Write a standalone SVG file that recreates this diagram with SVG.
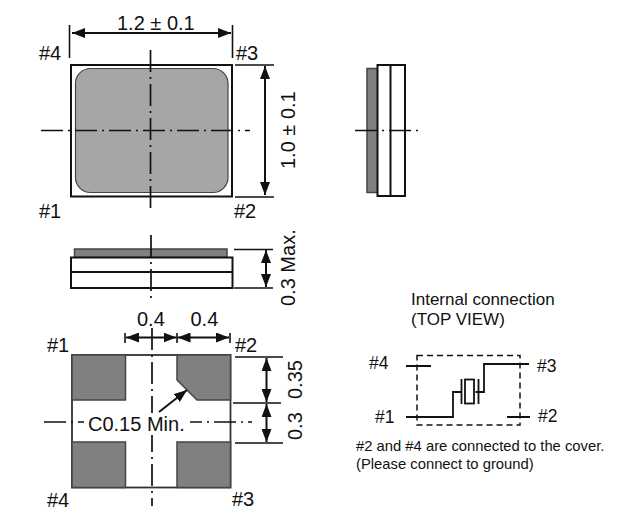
<svg xmlns="http://www.w3.org/2000/svg" width="634" height="522" viewBox="0 0 634 522">
<style>
text{font-family:"Liberation Sans",Arial,sans-serif;font-size:20px;fill:#111}
.i{font-size:17px}
.n{font-size:17.500px}
.f{font-size:14.800px}
.b{fill:#fff;stroke:#111;stroke-width:2}
.g{fill:#808080;stroke:#444;stroke-width:1.500}
.l{fill:none;stroke:#111;stroke-width:1.600}
.c{fill:none;stroke:#111;stroke-width:1.700;stroke-dasharray:22 5 2 5}
.d{fill:none;stroke:#111;stroke-width:2;marker-start:url(#a);marker-end:url(#a)}
.w{fill:none;stroke:#111;stroke-width:1.800}
</style>
<defs><marker id="a" markerUnits="userSpaceOnUse" markerWidth="14" markerHeight="10" refX="13" refY="5" orient="auto-start-reverse"><path d="M0 0L13 5L0 10Z" fill="#111"/></marker></defs>
<rect width="634" height="522" fill="#fff"/>
<g id="top-view">
<rect class="b" x="71" y="65" width="161" height="131.500"/>
<rect x="75.500" y="68.500" width="152.500" height="124" rx="15" fill="#a6a6a6" stroke="#444" stroke-width="1.200"/>
</g>
<g id="side-view">
<rect class="g" x="367" y="68.500" width="11" height="124"/>
<rect class="b" x="377.500" y="65" width="27.500" height="131"/>
<line x1="390.500" y1="65" x2="390.500" y2="196" stroke="#111" stroke-width="2"/>
</g>
<g id="front-view">
<rect class="g" x="74.500" y="249" width="152.500" height="8.500"/>
<rect class="b" x="71" y="257.500" width="161.500" height="30.500"/>
<line x1="71" y1="272" x2="232.500" y2="272" stroke="#111" stroke-width="2"/>
</g>
<g id="bottom-view">
<rect x="72" y="355" width="158.500" height="132.500" fill="#fff" stroke="#333" stroke-width="1.800"/>
<rect class="g" x="72" y="355" width="53.500" height="45"/>
<path class="g" d="M177 355H230.500V400H197L177 380Z"/>
<rect class="g" x="72" y="442" width="53.500" height="45.500"/>
<rect class="g" x="177" y="442" width="53.500" height="45.500"/>
</g>
<g id="connectors">
<path class="c" d="M150.500 50V213M41 130.500H250M355 130.500H420"/>
<path class="c" d="M151 235V300"/>
<path class="c" d="M152 328V506M44 422H252"/>
<path class="l" d="M69.500 25V58M232.500 25V58M235 65H274M235 197H274"/>
<line class="d" x1="72" y1="33" x2="231" y2="33"/>
<line class="d" x1="265" y1="66" x2="265" y2="195"/>
<path class="l" d="M234 249.500H273M234 288H273"/>
<line class="d" x1="266" y1="250" x2="266" y2="287"/>
<path class="l" d="M125 333V343M177 333V343M230 333V343"/>
<line class="d" x1="126" y1="337.500" x2="176.500" y2="337.500"/>
<line class="d" x1="177.500" y1="337.500" x2="229" y2="337.500"/>
<path class="l" d="M235 357H283M233 403H281M235 443H283"/>
<line class="d" x1="266.500" y1="358" x2="266.500" y2="402"/>
<line class="d" x1="266.500" y1="404" x2="266.500" y2="442"/>
<rect x="84" y="413" width="106" height="22" fill="#fff"/>
<line x1="159" y1="412" x2="187" y2="390" stroke="#111" stroke-width="2" marker-end="url(#a)"/>
<path d="M417 355.500H520V425H417Z" fill="none" stroke="#111" stroke-width="1.500" stroke-dasharray="6 4"/>
<path class="w" d="M406 366H431M406 417H453V392H461"/>
<path class="w" d="M475.500 392H484V364H529M507 417H530"/>
<path class="w" d="M461.500 379V404M478.500 379V404"/>
<rect x="465" y="379.500" width="9" height="24" fill="#fff" stroke="#111" stroke-width="1.800"/>
</g>
<g id="labels">
<text x="117" y="30">1.2 ± 0.1</text>
<text x="39" y="60">#4</text><text x="236" y="60">#3</text>
<text x="39" y="218">#1</text><text x="234" y="218">#2</text>
<text transform="translate(295 169) rotate(-90)">1.0 ± 0.1</text>
<text transform="translate(295 306) rotate(-90)">0.3 Max.</text>
<text x="137" y="326">0.4</text><text x="190.500" y="326">0.4</text>
<text x="47" y="352">#1</text><text x="235" y="352">#2</text>
<text x="47" y="507">#4</text><text x="232" y="506">#3</text>
<text transform="translate(302 399) rotate(-90)">0.35</text>
<text transform="translate(302 440) rotate(-90)">0.3</text>
<text x="88" y="431">C0.15 Min.</text>
<text x="411" y="305" class="i">Internal connection</text>
<text x="411" y="325" class="i">(TOP VIEW)</text>
<text x="369" y="369" class="n">#4</text><text x="537" y="372" class="n">#3</text>
<text x="375" y="423" class="n">#1</text><text x="538" y="422" class="n">#2</text>
<text x="356" y="451" class="f">#2 and #4 are connected to the cover.</text>
<text x="356" y="469" class="f">(Please connect to ground)</text>
</g>
</svg>
